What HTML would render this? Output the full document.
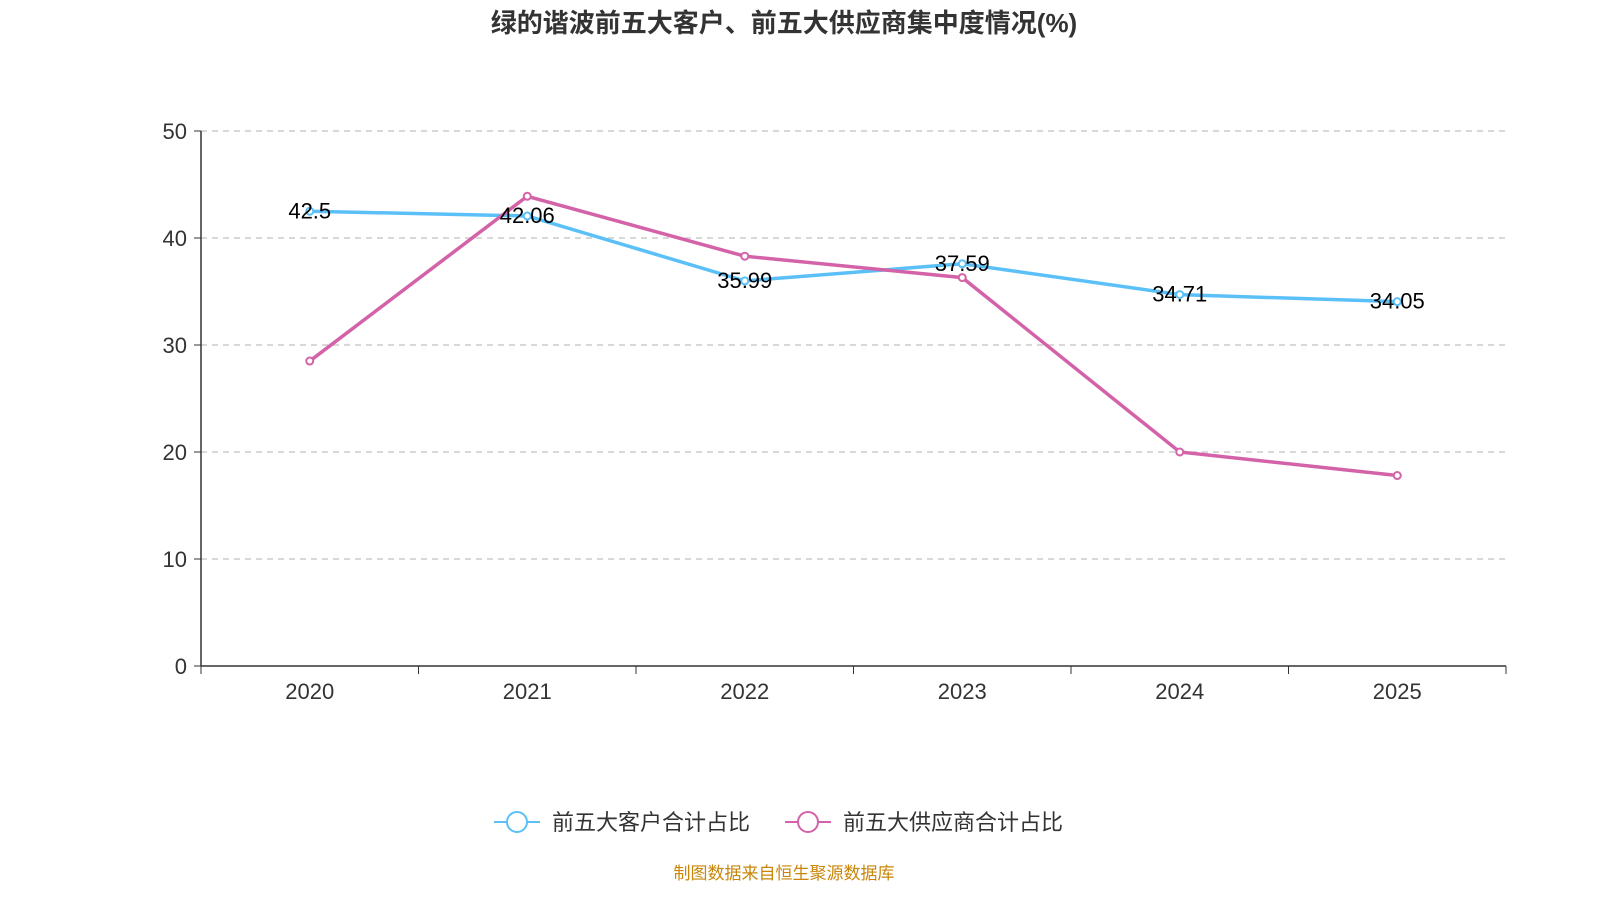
<!DOCTYPE html>
<html><head><meta charset="utf-8">
<style>
body{margin:0;background:#fff;font-family:"Liberation Sans","Noto Sans CJK SC",sans-serif;}
</style></head>
<body>
<svg width="1600" height="900" xmlns="http://www.w3.org/2000/svg" id="chart">
<text x="784" y="32" text-anchor="middle" font-size="26" font-weight="bold" fill="#333" font-family="Liberation Sans, Noto Sans CJK SC, sans-serif">绿的谐波前五大客户、前五大供应商集中度情况(%)</text>
<g id="grid"></g><g id="axes"></g><g id="series"></g>
<g font-family="Liberation Sans, Noto Sans CJK SC, sans-serif">
<g>
<line x1="494" y1="822" x2="540" y2="822" stroke="#5bc0f7" stroke-width="2"/>
<circle cx="517" cy="822" r="10" fill="#fff" stroke="#5bc0f7" stroke-width="2"/>
<text x="552" y="830" font-size="22" fill="#333">前五大客户合计占比</text></g>
<g>
<line x1="785" y1="822" x2="831" y2="822" stroke="#d462a8" stroke-width="2"/>
<circle cx="808" cy="822" r="10" fill="#fff" stroke="#d462a8" stroke-width="2"/>
<text x="843" y="830" font-size="22" fill="#333">前五大供应商合计占比</text></g>
</g>
<text x="784" y="879" text-anchor="middle" font-size="17" fill="#c8860a" font-family="Liberation Sans, Noto Sans CJK SC, sans-serif">制图数据来自恒生聚源数据库</text>
</svg>
<script>
const categories=["2020","2021","2022","2023","2024","2025"];
const customers=[42.5,42.06,35.99,37.59,34.71,34.05];
const suppliers=[28.5,43.9,38.3,36.3,20.0,17.8];
const yTicks=[0,10,20,30,40,50];
const NS="http://www.w3.org/2000/svg";
const x0=201,x1=1506,y0=666,y1=131,yMax=50;
const bw=(x1-x0)/categories.length;
const xs=i=>x0+bw*(i+0.5);
const ys=v=>y0-(v/yMax)*(y0-y1);
function mk(tag,attrs,parent,txt){const e=document.createElementNS(NS,tag);for(const k in attrs)e.setAttribute(k,attrs[k]);if(txt!==undefined)e.textContent=txt;parent.appendChild(e);return e;}
const grid=document.getElementById('grid'),axes=document.getElementById('axes'),series=document.getElementById('series');
const font="Liberation Sans, Noto Sans CJK SC, sans-serif";
yTicks.forEach(t=>{
  if(t>0){const g=mk('line',{x1:x0,x2:x1,y1:ys(t),y2:ys(t),stroke:'#ccc','stroke-dasharray':'6,5','stroke-width':1.5},grid);
  
  }
  mk('line',{x1:x0-7,x2:x0,y1:ys(t),y2:ys(t),stroke:'#333'},axes);
  const l=mk('text',{x:x0-14,y:ys(t)+8,'text-anchor':'end','font-size':22,fill:'#333','font-family':font},axes,String(t));
  
  
});
mk('line',{x1:x0,x2:x0,y1:y1,y2:y0,stroke:'#333','stroke-width':1.5},axes);
mk('line',{x1:x0,x2:x1,y1:y0,y2:y0,stroke:'#333','stroke-width':1.5},axes);
for(let i=0;i<=categories.length;i++)mk('line',{x1:x0+bw*i,x2:x0+bw*i,y1:y0,y2:y0+8,stroke:'#333'},axes);
categories.forEach((c,i)=>{
  const l=mk('text',{x:xs(i),y:y0+33,'text-anchor':'middle','font-size':22,fill:'#333','font-family':font},axes,c);
  
  
});
function drawSeries(vals,color,name,labels){
  const p=mk('polyline',{points:vals.map((v,i)=>xs(i)+','+ys(v)).join(' '),fill:'none',stroke:color,'stroke-width':3.5},series);
  
  
  vals.forEach((v,i)=>{
    const c=mk('circle',{cx:xs(i),cy:ys(v),r:3.5,fill:'#fff',stroke:color,'stroke-width':2},series);
    
    
  });
  if(labels)vals.forEach((v,i)=>{
    const t=mk('text',{x:xs(i),y:ys(v)+7,'text-anchor':'middle','font-size':22,fill:'#000','font-family':font},series,String(v));
    
    
  });
}
drawSeries(customers,'#5bc0f7','customers',false);
drawSeries(suppliers,'#d462a8','suppliers',false);
customers.forEach((v,i)=>{
  const t=mk('text',{x:xs(i),y:ys(v)+7,'text-anchor':'middle','font-size':22,fill:'#000','font-family':font},series,String(v));
  
  
});
</script>
</body></html>
